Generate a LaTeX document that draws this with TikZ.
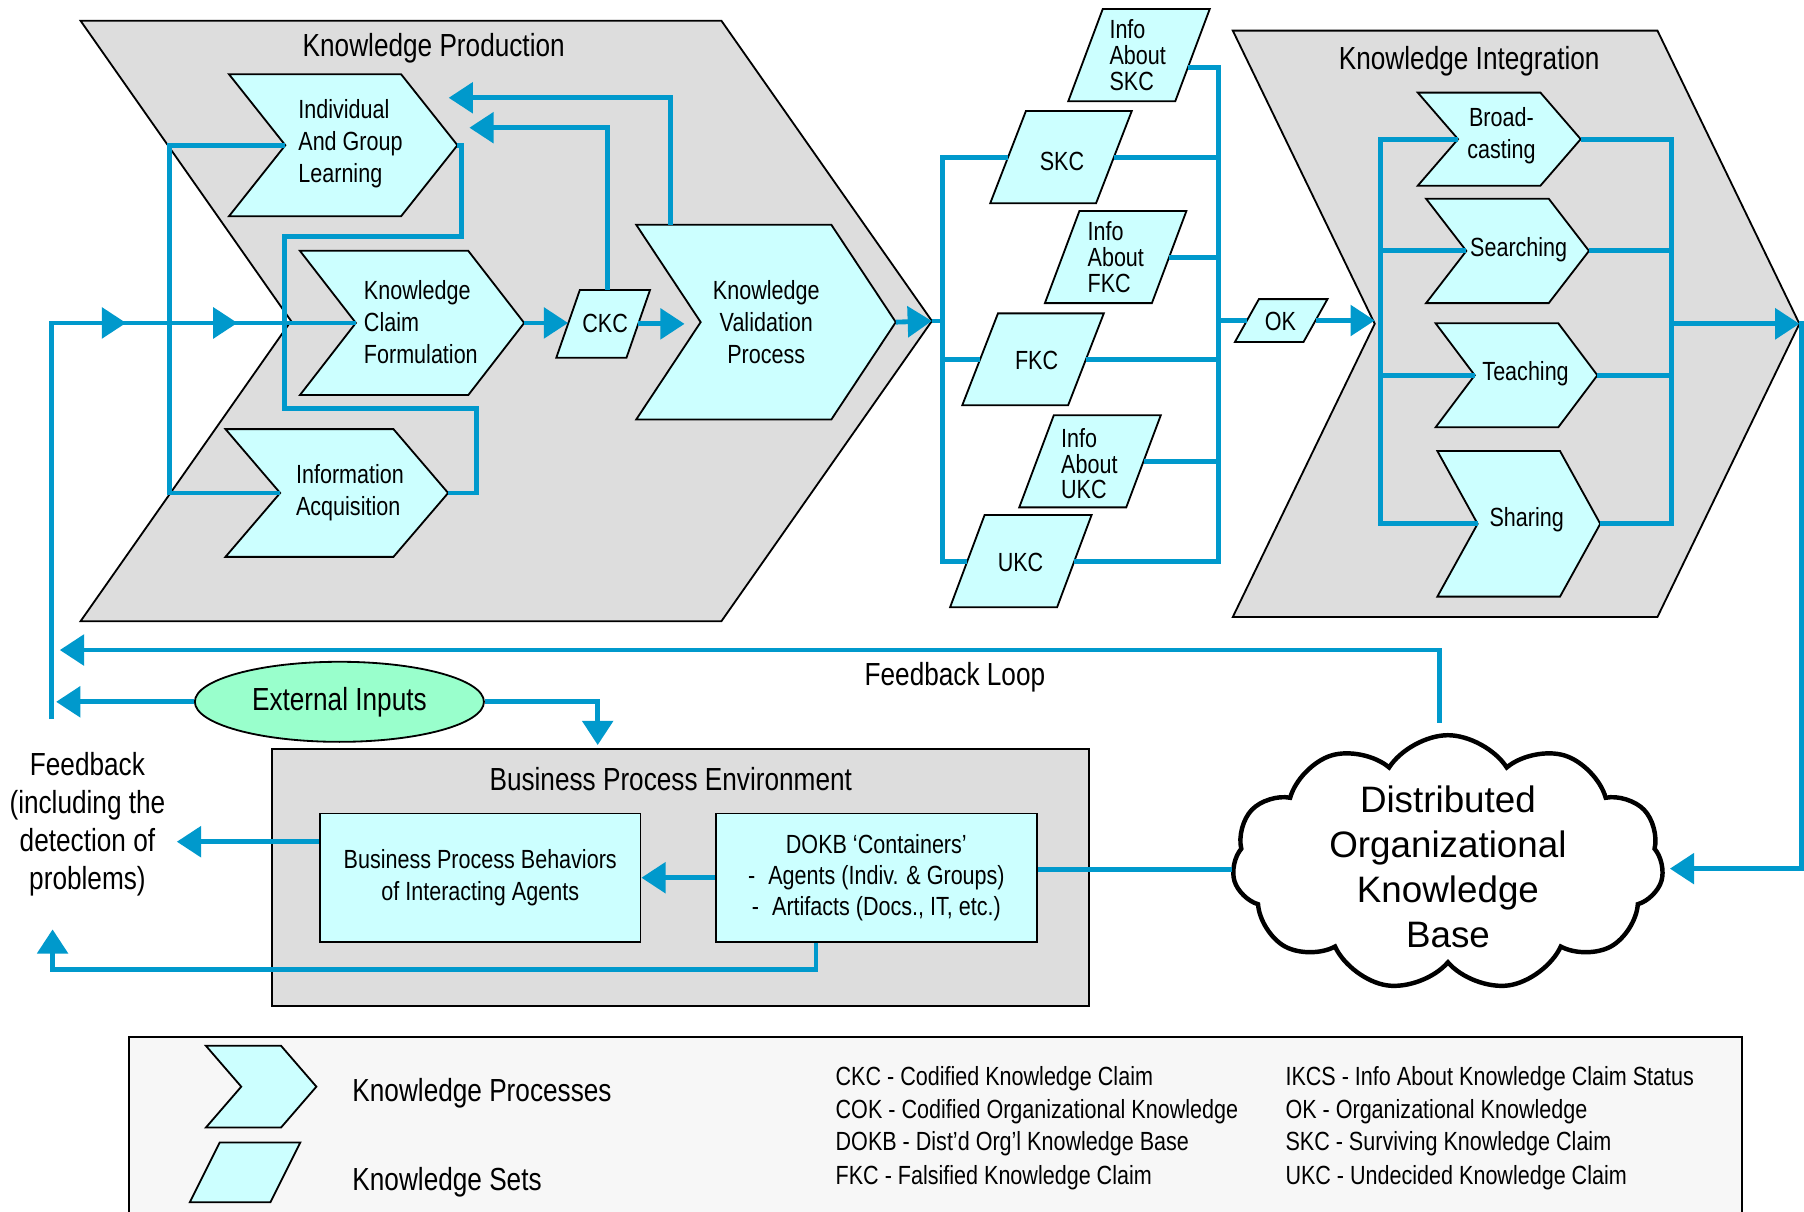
\documentclass[tikz,border=0pt]{standalone}
\usepackage{fontspec}
\setmainfont{Liberation Sans}[FakeStretch=0.82]
\newfontfamily\cloudfont{Liberation Sans}
\usetikzlibrary{arrows.meta,shapes.symbols,shapes.geometric,calc,decorations.markings}

\definecolor{flowblue}{HTML}{0099CC}
\definecolor{palecyan}{HTML}{CCFFFF}
\definecolor{panelgray}{HTML}{DDDDDD}
\definecolor{mintgreen}{HTML}{99FFCC}
\definecolor{legendgray}{HTML}{F7F7F7}

% chevron: [style]{name}{left x}{right x}{point depth}{top y}{bottom y}
\newcommand\kchev[7][procshape]{%
  \path[#1] (#3,#6) -- (#4,#6) -- ({#4+#5},{(#6+#7)/2}) -- (#4,#7) -- (#3,#7)
     -- ({#3+#5},{(#6+#7)/2}) -- cycle;
  \coordinate (#2-tip) at ({#4+#5},{(#6+#7)/2});
  \coordinate (#2-notch) at ({#3+#5},{(#6+#7)/2});
  \coordinate (#2-nw) at (#3,#6);
}
% parallelogram: [style]{name}{top-left x}{width}{slant}{top y}{bottom y}
\newcommand\kpar[7][setshape]{%
  \path[#1] (#3,#6) -- ({#3+#4},#6) -- ({#3+#4-#5},#7) -- ({#3-#5},#7) -- cycle;
  \coordinate (#2-w) at ({#3-#5/2},{(#6+#7)/2});
  \coordinate (#2-e) at ({#3+#4-#5/2},{(#6+#7)/2});
  \coordinate (#2-n) at ({#3+#4/2},#6);
}

\begin{document}
\begin{tikzpicture}[x=0.02cm, y=-0.02cm,
  procshape/.style={fill=palecyan, draw=black, line width=0.9pt},
  setshape/.style={fill=palecyan, draw=black, line width=0.9pt},
  panel/.style={fill=panelgray, draw=black, line width=0.9pt},
  conn/.style={draw=flowblue, line width=2.4pt},
  >={Triangle[length=12pt,width=15pt]},
  big/.style={font=\fontsize{15.8}{18.8}\selectfont, inner sep=0pt},
  small/.style={font=\fontsize{13}{15.9}\selectfont, inner sep=0pt},
  setlabel/.style={font=\fontsize{13}{12.8}\selectfont, inner sep=0pt, align=left, anchor=west},
  boxnode/.style={draw=black, fill=palecyan, line width=0.9pt, inner sep=0pt, align=center,
    font=\fontsize{13}{15.6}\selectfont},
  abbr/.style={font=\fontsize{13}{15.6}\selectfont, inner sep=0pt, anchor=west}
]
\fill[white] (0,0) rectangle (1568,1053);
\useasboundingbox (0,0) rectangle (1568,1053);

% ---------- big process panels ----------
\kchev[panel]{kp}{70}{627}{183}{18}{540}
\kchev[panel]{ki}{1071.5}{1440.6}{123.4}{26.6}{536.3}
\node[big] (kp-title) at (377,42) {Knowledge Production};
\node[big] (ki-title) at (1277,53) {Knowledge Integration};

% ---------- knowledge production processes ----------
\kchev{igl}{199}{348.6}{49}{64.5}{188}
\kchev{kcf}{260.7}{407}{48.6}{218}{343.4}
\kchev{ia}{196}{342}{47.5}{373}{484}
\kchev{kvp}{553}{722.6}{56}{195.4}{364.6}
\node[small, align=left, anchor=west] (igl) at (259,125) {Individual\\And Group\\Learning};
\node[small, align=left, anchor=west] (kcf) at (316,280) {Knowledge\\Claim\\Formulation};
\node[small, align=left, anchor=west] (ia) at (257,428.5) {Information\\Acquisition};
\node[small, align=center] (kvp) at (666,280) {Knowledge\\Validation\\Process};

\kpar{ckc}{504}{61}{20.5}{252}{311}
\node[small] (ckc) at (526,281.5) {CKC};

% ---------- knowledge sets ----------
\kpar{iskc}{958.5}{93}{30}{7.8}{88}
\kpar{skc}{891.7}{92}{31}{96.5}{176.6}
\kpar{ifkc}{938.2}{93}{30}{183.4}{263.5}
\kpar{fkc}{867.4}{92}{31}{272.4}{352.2}
\kpar{iukc}{915.9}{93}{30}{361}{441}
\kpar{ukc}{855.8}{93}{30}{447.6}{527.8}
\kpar{ok}{1094.2}{59.6}{20.8}{260}{297.2}
\node[setlabel] (iskc) at (964,47.7) {Info\\About\\SKC};
\node[small] (skc) at (923,140) {SKC};
\node[setlabel] (ifkc) at (945,223.3) {Info\\About\\FKC};
\node[small] (fkc) at (901,313) {FKC};
\node[setlabel] (iukc) at (922,403) {Info\\About\\UKC};
\node[small] (ukc) at (887,489) {UKC};
\node[small] (ok) at (1113,279) {OK};
\coordinate (iskc-port) at (1032.6,58.5);

% ---------- knowledge integration processes ----------
\kchev{bc}{1232.3}{1338.9}{35}{80.5}{161.4}
\kchev{se}{1239.5}{1346.1}{35}{172.7}{263.5}
\kchev{te}{1247.8}{1354.4}{34}{281}{371.4}
\kchev{sh}{1249.3}{1355.9}{35}{392}{518.6}
\node[small, align=center] (bc) at (1305,118) {Broad-\\casting};
\node[small] (se) at (1320,217) {Searching};
\node[small] (te) at (1326,325) {Teaching};
\node[small] (sh) at (1327,452) {Sharing};

% ---------- business process environment ----------
\path[panel] (236.6,651) rectangle (946.4,874.4);
\node[big] (bpe-title) at (583,677) {Business Process Environment};
\node[boxnode, minimum width=5.574cm, minimum height=2.236cm] (bpb) at (417.4,762.9)
  {Business Process Behaviors\\of Interacting Agents};
\node[boxnode, minimum width=5.586cm, minimum height=2.236cm, font=\fontsize{13}{15.2}\selectfont]
  (dokb) at (761.7,762.9)
  {DOKB ‘Containers’\\-\enspace Agents (Indiv. \& Groups)\\-\enspace Artifacts (Docs., IT, etc.)};

\node[ellipse, draw=black, fill=mintgreen, line width=0.9pt, minimum width=5.026cm,
  minimum height=1.392cm, big] (ext) at (295,610) {External Inputs};
\node[big] (fbloop) at (830,589) {Feedback Loop};
\node[big, align=center] (fbtext) at (76,716.4) {Feedback\\(including the\\detection of\\problems)};

% ---------- distributed organizational knowledge base ----------
\node[cloud, cloud puffs=11, cloud puff arc=115, aspect=1.7, draw=black, line width=2.2pt,
  fill=white, minimum width=7.5cm, minimum height=4.44cm, inner sep=0pt] (dokbcloud) at (1258.5,750) {};
\node[font=\cloudfont\fontsize{18.2}{22.2}\selectfont, align=center, inner sep=0pt]
  (dokb-text) at (1258.5,753.5) {Distributed\\Organizational\\Knowledge\\Base};

% ---------- connectors ----------
\coordinate (fb-base) at (44.8,625);
\draw[conn, postaction={decorate}, decoration={markings,
    mark=at position 0.672 with {\arrow{>}},
    mark=at position 0.831 with {\arrow{>}}}]
  (fb-base) |- (kcf-notch);
\draw[conn] (igl-notch) -- (147.5,126.25) |- (ia-notch);
\draw[conn] (igl-tip) -| (401,205.7) -| (247.5,354.7) -| (414.5,428.5) -- (ia-tip);
\draw[conn,->] (kcf-tip) -- (kcf-tip -| ckc-w);
\draw[conn,->,shorten >=0.28cm] (ckc-e) -- (ckc-e -| kvp-notch);
\coordinate (igl-ret2) at (408,111);
\coordinate (igl-ret1) at (390,85);
\draw[conn,->] ($(ckc-n)+(-6.5,0)$) |- (igl-ret2);
\draw[conn,->] ($(kvp-nw)+(29.5,0)$) |- (igl-ret1);
\draw[conn,->] (kvp-tip) -- (kp-tip);

\coordinate (lbus) at (819,0);
\coordinate (rbus) at (1059.3,0);
\draw[conn] (kp-tip) -- (kp-tip -| lbus);
\draw[conn] (skc-w) -- (skc-w -| lbus) |- (ukc-w);
\draw[conn] (fkc-w) -- (fkc-w -| lbus);
\draw[conn] (iskc-port) -- (iskc-port -| rbus) |- (ukc-e);
\draw[conn] (skc-e) -- (skc-e -| rbus);
\draw[conn] (ifkc-e) -- (ifkc-e -| rbus);
\draw[conn] (fkc-e) -- (fkc-e -| rbus);
\draw[conn] (iukc-e) -- (iukc-e -| rbus);
\draw[conn] (ok-w -| rbus) -- (ok-w);
\draw[conn,->] (ok-e) -- (ok-e -| ki-notch);

\coordinate (kil) at (1199.8,0);
\coordinate (kir) at (1452.7,0);
\coordinate (rside) at (1565.7,0);
\draw[conn] (bc-notch) -- (bc-notch -| kil) |- (sh-notch);
\draw[conn] (se-notch) -- (se-notch -| kil);
\draw[conn] (te-notch) -- (te-notch -| kil);
\draw[conn] (bc-tip) -- (bc-tip -| kir) |- (sh-tip);
\draw[conn] (se-tip) -- (se-tip -| kir);
\draw[conn] (te-tip) -- (te-tip -| kir);
\draw[conn,->] (ki-tip -| kir) -- (ki-tip);
\draw[conn,->] (ki-tip) -- (ki-tip -| rside) |- ($(dokbcloud.east)+(5,5)$);

\coordinate (fb-loop-end) at (52,565);
\draw[conn,->] ($(dokbcloud.north)+(-7,-9)$) |- (fb-loop-end);
\coordinate (cloud-port) at ($(dokbcloud.west)+(0,6)$);
\draw[conn] (cloud-port) -- (cloud-port -| dokb.east);
\draw[conn,->] (dokb.west) -- (bpb.east);
\coordinate (fb-right) at (153.7,731.6);
\draw[conn,->] ($(bpb.west)+(0,-31.3)$) -- (fb-right);
\coordinate (fb-up) at (45.7,807.8);
\draw[conn,->] ($(dokb.south)+(-52.5,0)$) |- (45.7,843) -- (fb-up);
\coordinate (ext-left) at (48.8,610);
\draw[conn,->] (ext.west) -- (ext-left);
\coordinate (bpe-in) at (519.5,647.6);
\draw[conn,->] (ext.east) -| (bpe-in);

% ---------- legend ----------
\path[fill=legendgray, draw=black, line width=1.1pt] (111.8,901) rectangle (1514,1075);
\kchev{lgproc}{179}{244.3}{30.7}{909}{980}
\kpar{lgset}{191}{70}{26}{993}{1045}
\node[big, anchor=west] (lg-proc) at (306,950) {Knowledge Processes};
\node[big, anchor=west] (lg-set) at (306,1028) {Knowledge Sets};
\node[abbr] (ab1) at (726,938) {CKC - Codified Knowledge Claim};
\node[abbr] (ab2) at (726,966) {COK - Codified Organizational Knowledge};
\node[abbr] (ab3) at (726,994) {DOKB - Dist’d Org’l Knowledge Base};
\node[abbr] (ab4) at (726,1024) {FKC - Falsified Knowledge Claim};
\node[abbr] (ab5) at (1117,938) {IKCS - Info About Knowledge Claim Status};
\node[abbr] (ab6) at (1117,966) {OK - Organizational Knowledge};
\node[abbr] (ab7) at (1117,994) {SKC - Surviving Knowledge Claim};
\node[abbr] (ab8) at (1117,1024) {UKC - Undecided Knowledge Claim};
\end{tikzpicture}
\end{document}
